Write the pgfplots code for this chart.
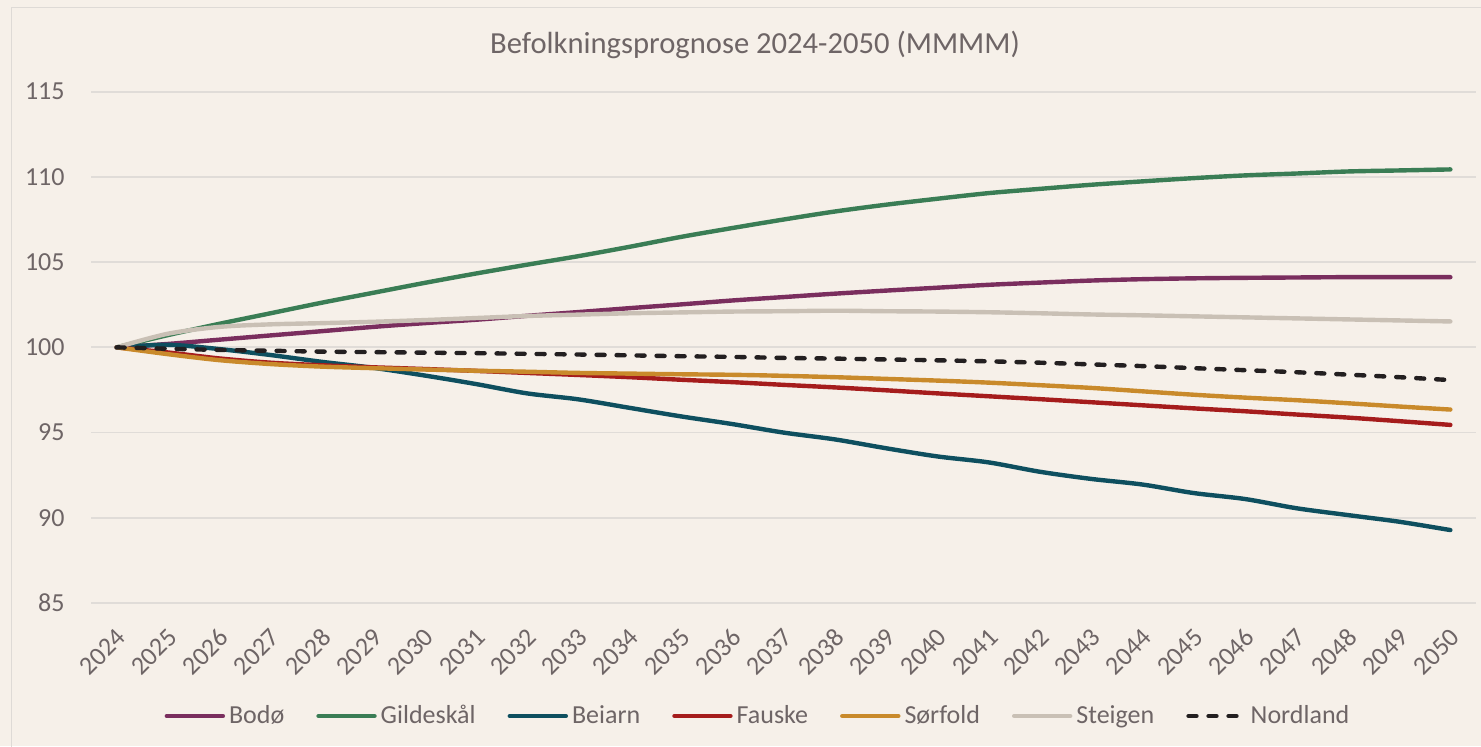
\documentclass[border=0pt]{standalone}
\usepackage{fontspec}
\setmainfont{Carlito}
\usepackage{pgfplots}
\usepackage{pgfplotstable}
\pgfplotsset{compat=1.18}
\definecolor{bg}{HTML}{F6F0E9}
\definecolor{framec}{HTML}{DEDAD6}
\definecolor{gridc}{HTML}{E0DCD8}
\definecolor{txt}{HTML}{6E6566}
\definecolor{cBodo}{HTML}{7A2E5E}
\definecolor{cGild}{HTML}{3A7D55}
\definecolor{cBei}{HTML}{0E4F5F}
\definecolor{cFau}{HTML}{A51C1C}
\definecolor{cSor}{HTML}{C98A2B}
\definecolor{cSte}{HTML}{C9C0B5}
\definecolor{cNor}{HTML}{231F20}
\pgfplotstableread{
year Bodo Gild Beiarn Fauske Sorfold Steigen Nordland
2024 100 100 100 100 100 100 100
2025 100.20 100.72 100.15 99.70 99.60 100.80 99.92
2026 100.45 101.38 99.90 99.35 99.25 101.20 99.85
2027 100.70 102.00 99.55 99.10 99.02 101.35 99.80
2028 100.95 102.62 99.15 98.95 98.87 101.42 99.75
2029 101.20 103.20 98.80 98.83 98.78 101.50 99.72
2030 101.42 103.78 98.35 98.73 98.70 101.60 99.69
2031 101.62 104.33 97.85 98.62 98.63 101.72 99.66
2032 101.85 104.85 97.30 98.50 98.57 101.84 99.62
2033 102.07 105.35 96.95 98.38 98.50 101.92 99.58
2034 102.30 105.90 96.45 98.25 98.46 102.00 99.53
2035 102.52 106.48 95.95 98.10 98.42 102.05 99.48
2036 102.75 107.00 95.50 97.96 98.39 102.10 99.44
2037 102.95 107.50 95.00 97.80 98.33 102.12 99.38
2038 103.15 107.97 94.60 97.65 98.25 102.15 99.34
2039 103.33 108.37 94.08 97.48 98.15 102.12 99.29
2040 103.50 108.72 93.60 97.30 98.05 102.10 99.24
2041 103.67 109.05 93.25 97.13 97.93 102.06 99.18
2042 103.80 109.30 92.70 96.96 97.78 102.00 99.10
2043 103.92 109.54 92.28 96.78 97.62 101.93 99.00
2044 104.00 109.74 91.95 96.60 97.42 101.88 98.90
2045 104.05 109.93 91.45 96.42 97.22 101.82 98.78
2046 104.08 110.09 91.10 96.25 97.05 101.76 98.66
2047 104.10 110.20 90.56 96.06 96.90 101.70 98.54
2048 104.12 110.32 90.16 95.88 96.72 101.64 98.40
2049 104.12 110.38 89.77 95.67 96.53 101.58 98.25
2050 104.12 110.44 89.28 95.45 96.35 101.52 98.08
}\datatable
\begin{document}
\begin{tikzpicture}
\fill[bg] (0,0) rectangle (740.5pt,373pt);
\useasboundingbox (0,0) rectangle (740.5pt,373pt);
\draw[framec, line width=0.75pt] (5.75pt,-5pt) -- (5.75pt,369.25pt) -- (750pt,369.25pt);
\node[anchor=base, text=txt, font=\fontsize{15.3}{18}\selectfont] at (377.5pt,346pt) {Befolkningsprognose 2024-2050 (MMMM)};
\begin{axis}[
  at={(45.5pt,71.5pt)}, anchor=south west,
  width=692.5pt, height=255.65pt, scale only axis,
  xmin=2023.5, xmax=2050.5, ymin=85, ymax=115,
  xtick={2024,2025,...,2050},
  xticklabels={2024,2025,2026,2027,2028,2029,2030,2031,2032,2033,2034,2035,2036,2037,2038,2039,2040,2041,2042,2043,2044,2045,2046,2047,2048,2049,2050},
  ytick={85,90,95,100,105,110,115},
  yticklabels={85,90,95,100,105,110,115},
  ymajorgrids, grid style={gridc, line width=0.9pt},
  axis line style={draw=none},
  major tick length=0pt,
  tick label style={text=txt, font=\fontsize{13}{15}\selectfont},
  yticklabel style={inner sep=0pt, xshift=-13pt},
  xticklabel style={xshift=2.5pt, yshift=-15pt, rotate=45, anchor=east, inner sep=0pt},
  clip=false,
  every axis plot/.append style={smooth, line width=2.2pt, line cap=round, line join=round},
  legend columns=7,
  legend style={at={(0.4823,-0.221)}, anchor=center, draw=none, fill=none,
    font=\fontsize{13}{15}\selectfont, text=txt,
    nodes={inner xsep=2pt, inner ysep=1pt},
    /tikz/every even column/.append style={column sep=14pt}},
  legend image code/.code={\draw[#1, sharp plot] (0pt,0pt) -- (28pt,0pt);},
]
\addplot[cBodo] table[x=year, y=Bodo] {\datatable};
\addlegendentry{Bodø}
\addplot[cGild] table[x=year, y=Gild] {\datatable};
\addlegendentry{Gildeskål}
\addplot[cBei] table[x=year, y=Beiarn] {\datatable};
\addlegendentry{Beiarn}
\addplot[cFau] table[x=year, y=Fauske] {\datatable};
\addlegendentry{Fauske}
\addplot[cSor] table[x=year, y=Sorfold] {\datatable};
\addlegendentry{Sørfold}
\addplot[cSte] table[x=year, y=Steigen] {\datatable};
\addlegendentry{Steigen}
\addplot[cNor, dash pattern=on 4pt off 6pt] table[x=year, y=Nordland] {\datatable};
\addlegendentry{Nordland}
\end{axis}
\end{tikzpicture}
\end{document}
